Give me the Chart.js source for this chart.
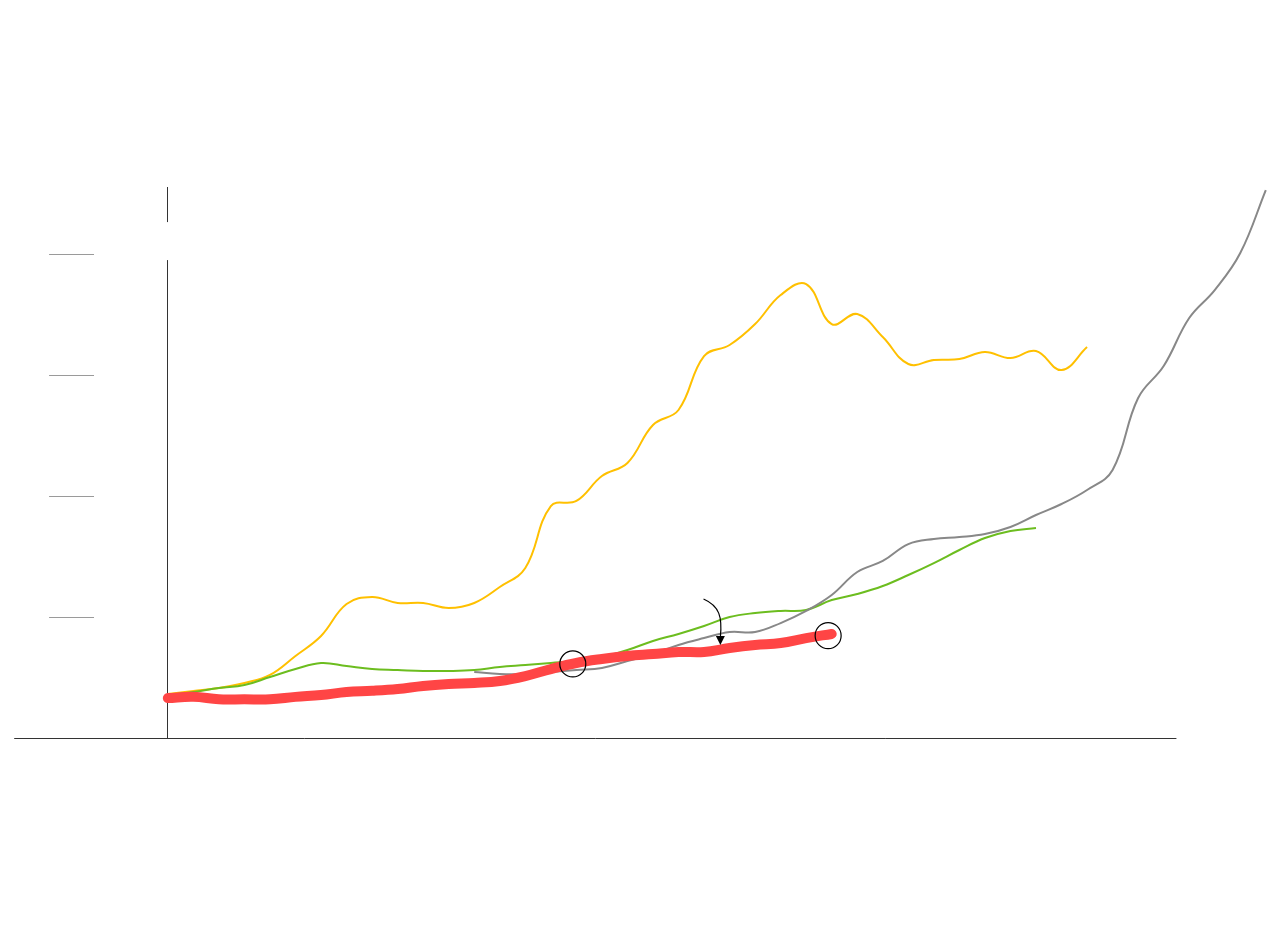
<!DOCTYPE html>
<html lang="en">
<head>
  <meta charset="UTF-8">
  <title>Line chart</title>
  <script src="https://cdn.jsdelivr.net/npm/chart.js"></script>
  <style>
    body { margin: 0; background: #fff; }
    .container { width: 1280px; height: 950px; }
  </style>
</head>
<body>
  <div class="container">
    <canvas id="lineChart"></canvas>
  </div>
  <script>
    // x = years since start, y = value
    const redYears = [0,1,2,3,4,5,6,7,8,9,10,11,12,13,14,15,16,17,18,19,20,21,22,23,24,25,26];
    const redValues = [0.33,0.34,0.32,0.32,0.32,0.34,0.355,0.38,0.39,0.405,0.43,0.446,0.455,0.471,0.512,0.57,0.62,0.653,0.678,0.694,0.711,0.711,0.744,0.769,0.785,0.826,0.86];

    const yellowYears = [0,1,2,3,4,5,6,7,8,9,10,11,12,13,14,15,16,17,18,19,20,21,22,23,24,25,26,27,28,29,30,31,32,33,34,35,36];
    const yellowValues = [0.364,0.388,0.413,0.455,0.521,0.678,0.843,1.107,1.165,1.116,1.116,1.074,1.116,1.248,1.405,1.917,1.959,2.165,2.273,2.587,2.711,3.157,3.248,3.421,3.661,3.752,3.421,3.504,3.314,3.091,3.124,3.132,3.19,3.14,3.198,3.041,3.231];

    const greenYears = [0,1,2,3,4,5,6,7,8,9,10,11,12,13,14,15,16,17,18,19,20,21,22,23,24,25,26,27,28,29,30,31,32,33,34];
    const greenValues = [0.355,0.38,0.413,0.438,0.504,0.57,0.62,0.595,0.57,0.562,0.554,0.554,0.562,0.587,0.603,0.62,0.636,0.669,0.727,0.802,0.86,0.926,1.0,1.033,1.05,1.058,1.14,1.19,1.256,1.347,1.446,1.554,1.653,1.711,1.736];

    const grayYears = [12,13,14,15,16,17,18,19,20,21,22,23,24,25,26,27,28,29,30,31,32,33,34,35,36,37,38,39,40,41,42,43];
    const grayValues = [0.545,0.529,0.529,0.545,0.562,0.579,0.636,0.694,0.769,0.826,0.876,0.876,0.95,1.05,1.182,1.372,1.463,1.603,1.645,1.661,1.686,1.744,1.843,1.934,2.05,2.215,2.81,3.074,3.471,3.702,4.008,4.529];

    // circled points and the arrow
    const circleYears = [15.86, 25.86];
    const circleValues = [0.612, 0.846];
    const arrowFrom = [20.98, 1.149];
    const arrowTo = [21.64, 0.769];

    // axis decorations
    const yTicks = [1, 2, 3, 4];
    const xAxisEnd = 39.5;
    const yAxisSegments = [[0, 3.95], [4.264, 4.554]];

    const toPoints = (xs, ys) => xs.map((x, i) => ({ x: x, y: ys[i] }));

    const axesPlugin = {
      id: 'axesPlugin',
      beforeDatasetsDraw(chart) {
        const { ctx, scales: { x, y } } = chart;
        ctx.save();
        // tick marks left of the y axis
        ctx.strokeStyle = '#9a9a9a';
        ctx.lineWidth = 1;
        yTicks.forEach(t => {
          const py = Math.round(y.getPixelForValue(t)) + 0.5;
          ctx.beginPath();
          ctx.moveTo(x.getPixelForValue(-4.65), py);
          ctx.lineTo(x.getPixelForValue(-2.89), py);
          ctx.stroke();
        });
        // x axis
        ctx.strokeStyle = '#333';
        const by = Math.round(y.getPixelForValue(0)) + 0.5;
        ctx.beginPath();
        ctx.moveTo(x.left, by);
        ctx.lineTo(x.getPixelForValue(xAxisEnd), by);
        ctx.stroke();
        // y axis, with its gap
        const ax = Math.round(x.getPixelForValue(0)) - 0.5;
        yAxisSegments.forEach(seg => {
          ctx.beginPath();
          ctx.moveTo(ax, y.getPixelForValue(seg[0]));
          ctx.lineTo(ax, y.getPixelForValue(seg[1]));
          ctx.stroke();
        });
        ctx.restore();
      },
      afterDatasetsDraw(chart) {
        const { ctx, scales: { x, y } } = chart;
        const sx = x.getPixelForValue(arrowFrom[0]), sy = y.getPixelForValue(arrowFrom[1]);
        const ex = x.getPixelForValue(arrowTo[0]), ey = y.getPixelForValue(arrowTo[1]);
        ctx.save();
        ctx.strokeStyle = '#000';
        ctx.fillStyle = '#000';
        ctx.lineWidth = 1.2;
        ctx.beginPath();
        ctx.moveTo(sx, sy);
        ctx.bezierCurveTo(sx + 16, sy + 7, ex + 2, sy + 18, ex, ey - 8);
        ctx.stroke();
        ctx.beginPath();
        ctx.moveTo(ex, ey);
        ctx.lineTo(ex - 4.5, ey - 9);
        ctx.lineTo(ex + 4.5, ey - 9);
        ctx.closePath();
        ctx.fill();
        ctx.restore();
      }
    };

    const ctx = document.getElementById('lineChart').getContext('2d');

    new Chart(ctx, {
      type: 'line',
      data: {
        datasets: [
          {
            label: 'circles',
            type: 'scatter',
            data: toPoints(circleYears, circleValues),
            pointRadius: 13,
            pointBackgroundColor: 'rgba(0,0,0,0)',
            pointBorderColor: '#000',
            pointBorderWidth: 1.2,
            order: 0,
          },
          {
            label: 'red',
            data: toPoints(redYears, redValues),
            borderColor: '#ff4545',
            borderWidth: 10,
            borderCapStyle: 'round',
            borderJoinStyle: 'round',
            order: 1,
          },
          {
            label: 'gray',
            data: toPoints(grayYears, grayValues),
            borderColor: '#888888',
            borderWidth: 2,
            order: 2,
          },
          {
            label: 'green',
            data: toPoints(greenYears, greenValues),
            borderColor: '#6cbd1f',
            borderWidth: 2,
            order: 3,
          },
          {
            label: 'yellow',
            data: toPoints(yellowYears, yellowValues),
            borderColor: '#ffc000',
            borderWidth: 2,
            order: 4,
          },
        ],
      },
      options: {
        responsive: true,
        maintainAspectRatio: false,
        animation: false,
        layout: { padding: { left: 13, right: 12, top: 187, bottom: 212 } },
        elements: {
          line: { tension: 0.4, fill: false },
          point: { radius: 0 },
        },
        datasets: { line: { clip: false }, scatter: { clip: false } },
        plugins: {
          legend: { display: false },
          tooltip: { enabled: false },
        },
        scales: {
          x: { type: 'linear', display: false, min: -6.016, max: 43 },
          y: { type: 'linear', display: false, min: 0, max: 4.554 },
        },
      },
      plugins: [axesPlugin],
    });
  </script>
</body>
</html>
